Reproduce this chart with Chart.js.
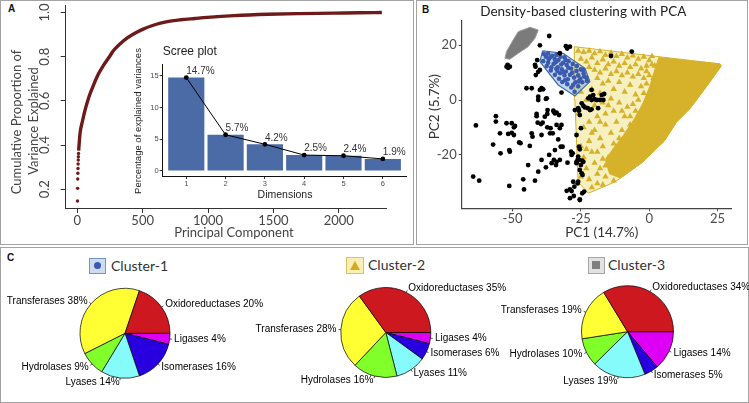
<!DOCTYPE html>
<html>
<head>
<meta charset="utf-8">
<script src="https://cdn.jsdelivr.net/npm/chart.js@4.4.1/dist/chart.umd.min.js"></script>
<style>
  body { margin: 0; width: 749px; height: 403px; overflow: hidden; position: relative; background: #fff; font-family: "Liberation Sans", Arial, sans-serif; }
  .box { position: absolute; border: 1px solid #a3a3a3; box-sizing: border-box; }
  canvas { position: absolute; }
  .tag { position: absolute; font: bold 10px "Liberation Sans", Arial, sans-serif; color: #111; line-height: 12px; }
  .ctitle { position: absolute; font: 14px Lato, sans-serif; color: #333; line-height: 17px; }
  .icon { position: absolute; box-sizing: border-box; border: 1.5px solid; }
</style>
</head>
<body>
<div class="box" style="left:0;top:0;width:414px;height:245px"></div>
<div class="box" style="left:416px;top:0;width:332px;height:245px"></div>
<div class="box" style="left:0;top:247px;width:749px;height:156px"></div>
<div class="tag" style="left:8px;top:3px">A</div>
<div class="tag" style="left:422px;top:4px">B</div>
<div class="tag" style="left:7px;top:252px">C</div>

<div class="icon" style="left:89px;top:258px;width:17px;height:16px;background:#cddcf0;border-color:#7196ca">
  <div style="position:absolute;left:3.5px;top:3px;width:7px;height:7px;border-radius:50%;background:#3a5bb0"></div>
</div>
<div class="ctitle" style="left:111px;top:257px">Cluster-1</div>
<div class="icon" style="left:346px;top:257px;width:18px;height:17px;background:#fbefb5;border-color:#dfc35a">
  <div style="position:absolute;left:2.5px;top:3px;width:0;height:0;border-left:5px solid transparent;border-right:5px solid transparent;border-bottom:9px solid #d1ab22"></div>
</div>
<div class="ctitle" style="left:368px;top:256px">Cluster-2</div>
<div class="icon" style="left:588px;top:257px;width:17px;height:17px;background:#e2e2e2;border-color:#a6a6a6">
  <div style="position:absolute;left:3px;top:3px;width:8px;height:8px;background:#7f7f7f"></div>
</div>
<div class="ctitle" style="left:608px;top:256px">Cluster-3</div>

<canvas id="cA" width="414" height="244" style="left:0;top:0"></canvas>
<canvas id="cI" width="282" height="170" style="left:130px;top:40px"></canvas>
<canvas id="cB" width="332" height="245" style="left:416px;top:0"></canvas>
<canvas id="cP1" width="749" height="156" style="left:0;top:247px"></canvas>
<canvas id="cP2" width="749" height="156" style="left:0;top:247px"></canvas>
<canvas id="cP3" width="749" height="156" style="left:0;top:247px"></canvas>

<script>
// ---- panel A: cumulative proportion of variance ----
const firstPcs = [1, 2, 3, 4, 5, 6, 7, 8, 9];
const firstCum = [0.147, 0.204, 0.246, 0.272, 0.294, 0.314, 0.332, 0.347, 0.362];
const pcIndex = [10, 21, 40, 59, 90, 123, 160, 200, 240, 277, 330, 380, 440, 508, 570, 636, 710, 790, 900, 995, 1200, 1457, 1700, 1968, 2150, 2330];
const cumVar = [0.375, 0.454, 0.51, 0.558, 0.62, 0.67, 0.72, 0.761, 0.795, 0.828, 0.86, 0.884, 0.906, 0.926, 0.94, 0.952, 0.961, 0.967, 0.973, 0.978, 0.986, 0.992, 0.995, 0.997, 0.999, 1.0];
const pcTicks = [0, 500, 1000, 1500, 2000];
const cumTicks = [0.2, 0.4, 0.6, 0.8, 1.0];

// ---- inset: scree plot ----
const screeDims = [1, 2, 3, 4, 5, 6];
const screePct = [14.7, 5.7, 4.2, 2.5, 2.4, 1.9];
const screeTicks = [0, 5, 10, 15];

// ---- panel B: PCA scatter (PC1, PC2) ----
const pc1Ticks = [-50, -25, 0, 25];
const pc2Ticks = [-20, 0, 20];
const noisePts = [
  [-36.6,23.4],[-40.0,20.0],[-30.5,19.7],[-29.0,19.5],[-30.0,18.8],[-32.7,17.1],[-41.0,14.6],[-41.8,12.8],[-40.6,10.3],[-41.5,9.1],
  [-40.0,11.0],[-41.6,12.2],[-51.6,11.8],[-52.2,12.2],[-51.8,12.8],[-51.0,12.2],[-44.9,4.3],[-43.0,4.3],[-40.0,3.7],[-39.4,4.3],[-38.8,3.9],
  [-40.6,1.2],[-37.5,0.6],[-40.6,0],[-37.8,0.4],[-32.1,2.7],[-35.1,-3.9],[-33.9,-4.6],[-41.2,-5.1],[-20.5,1.8],[-19.2,0],
  [-56.1,-5.9],[-56.1,-7.9],[-63.4,-9.3],[-52.2,-8.5],[-50.3,-8.5],[-49.1,-9.5],[-49.5,-10.0],[-54.6,-12.2],[-51.6,-12.4],
  [-50.3,-12.0],[-49.5,-12.8],[-57.1,-16.3],[-54.4,-19.5],[-51.2,-18.3],[-51.0,-18.9],[-47.6,-15.5],[-47.1,-15.8],[-43.0,-12.2],
  [-42.7,-13.4],[-43.7,-16.8],[-41.2,-5.9],[-39.0,-8.3],[-40.8,-8.3],[-39.6,-8.8],[-37.3,-5.1],[-37.2,-3.7],[-38.2,-6.1],[-37.3,-10.0],[-36.1,-10.3],
  [-36.3,-12.2],[-35.3,-12.2],[-39.4,-12.8],[-34.9,-4.3],[-34.5,-4.9],[-33.0,-5.5],[-32.1,-9.1],[-33.9,-9.1],[-32.7,-10.3],[-33.3,-14.4],
  [-32.4,-17.1],[-31.7,-17.1],[-34.5,-18.3],[-36.6,-20.1],[-39.4,-21.9],[-40.6,-26.2],[-44.3,-23.8],[-37.8,-24.6],[-35.7,-23.1],
  [-34.9,-21.9],[-33.9,-22.6],[-34.1,-23.8],[-32.7,-21.9],[-29.9,-22.9],[-28.6,-18.9],[-28.4,-20.1],[-28.0,-19.5],[-26.6,-22.6],
  [-25.6,-21.9],[-24.1,-22.6],[-27.8,-29.9],[-26.0,-29.9],[-29.0,-32.7],[-30.2,-33.2],[-28.4,-33.3],[-27.6,-35.1],[-25.4,-36.3],
  [-29.0,-35.9],[-27.4,-31.7],[-64.4,-28.0],[-62.2,-29.5],[-51.2,-31.4],[-46.1,-29.0],[-45.8,-32.7],[-41.8,-29.5],[-27.2,-3.7],[-25.7,-3.9],
  [-25.4,-25.6],[-24.7,-26.8],[-24.4,-27.4],[-14.0,16.1],[-6.4,17.7],[-21.1,3.7],[-21.7,1.2],[-22.3,0.6],[-21.1,0],[-20.1,0.3],
  [-17.4,1.8],[-16.5,2.2],[-16.8,0],[-18.0,0],[-24.7,-1.2],[-24.1,-2.2],[-23.5,-2.7],[-22.5,-3.0],[-21.7,-3.7],[-21.1,-3.4],
  [-18.7,-3.0],[-26.0,-3.0],[-25.4,-5.5],[-25.0,-10.3],[-26.6,-12.8],[-25.7,-17.1],[-25.4,-18.0],[-26.0,-20.7],[-26.2,-21.9],
  [-24.5,-22.2],[-25.0,-23.8],[-26.6,-23.1],[-26.2,-30.5],[-23.8,-33.5],[-24.5,-34.1],[-25.4,-36.6]
];
const blueHull = [[-39.0,18.0],[-31.5,17.1],[-23.5,11.6],[-21.7,6.7],[-27.2,1.5],[-33.3,5.5],[-40.0,14.0],[-39.0,18.0]];
const bluePts = [
  [-38.5,16.8],[-37,17],[-35.5,16.2],[-34,16.5],[-32.5,15.8],[-31,15.6],[-29.5,14.2],[-28,13.2],[-26.5,12.4],[-25,11.2],
  [-24,9.8],[-23,8.2],[-22.8,7],[-24.5,6.5],[-26,5],[-27.3,3],[-28.5,4.6],[-30,5.8],[-31.8,6.6],[-33,7.8],[-34.5,9.2],
  [-36,10.8],[-37.5,12.4],[-38.8,14.2],[-36.8,14.8],[-35,13.2],[-33.5,12],[-32,11.2],[-30.5,10.4],[-29,9.2],[-27.5,8.2],
  [-26,9],[-25.2,7.8],[-28.6,11.5],[-30.2,12.8],[-31.5,13.6],[-33.2,14.6],[-34.6,15],[-29.8,7.6],[-31,9],[-27,6.5],
  [-24.2,11],[-35.8,12],[-37.8,15.8],[-32.6,9.8],[-36.2,15.6],[-34.2,13.8],[-32.2,13],[-30.6,14.6],[-28.2,10],[-26.6,10.6],
  [-29.6,11.8],[-31.4,10.2],[-33.6,10.6],[-27.8,5.6],[-25.8,6.8],[-23.8,8.6],[-30.8,7.2],[-34,11.4],[-37,13.6]
];
const grayHull = [[-43.6,26.6],[-40.6,25.6],[-41.8,22.6],[-44.3,19.5],[-47.9,17.1],[-51.0,14.9],[-52.8,15.2],[-52.2,17.7],[-49.8,21.9],[-47.9,25.0],[-43.6,26.6]];
const yellowHull = [[-27.4,19.5],[25.9,13.2],[26.3,12.4],[21,5],[15,-3],[10,-8],[5.5,-15],[-2.8,-23],[-12.6,-30],[-22.3,-34.1],[-26,-30],[-27.2,0],[-27.4,19.5]];
const yellowCore = [[3.5,15.5],[25.9,13.2],[26.3,12.4],[21,5],[15,-3],[10,-8],[5.5,-15],[-2.8,-23],[-10.5,-28.5],[-14.5,-27],[-16,-22],[-13,-17.5],[-9.5,-13],[-5.5,-7],[-2.2,-1],[0.2,5],[2,11],[3.5,15.5]];
const yellowPts = [
  [-26,18],[-24,17.5],[-22,18],[-20,17],[-18,17.8],[-16,16.5],[-14,17.2],[-12,16],[-10,16.8],[-8,15.5],[-6,16.2],[-4,15],
  [-2,15.8],[0,14.5],[-25,15],[-23,14],[-21,15.5],[-19,13.5],[-17,14.8],[-15,13],[-13,14],[-11,12.5],[-9,13.5],[-7,12],
  [-5,13],[-3,11.5],[-1,12.5],[1,13],[-20,11],[-18,10],[-16,11.5],[-14,9.5],[-12,10.5],[-10,9],[-8,10],[-6,8.5],[-4,9.5],
  [-2,8],[0,9],[-15,7],[-11,6.5],[-7,5.5],[-3,5],[-9,3],[-5,2],[-13,4],[-17,6],[-19,8],[-22,12],[-24,11],
  [-23,0],[-20,-2],[-17,-1],[-14,0.5],[-11,-1],[-8,-2.5],[-5,-4],[-13,-4],[-16,-5],[-19,-6],[-22,-8],[-24,-10],[-20,-11],
  [-16,-9],[-12,-8],[-9,-6],[-14,-12],[-18,-14],[-22,-15],[-25,-17],[-21,-19],[-17,-17],[-13,-16],[-20,-23],[-23,-25],
  [-25,-28],[-22,-29],[-24,-21],[-19,-27],[-16,-24],[-10,-11],[-7,-9],[-26,-5],[-25,3],[-21,4],[-18,2.5],
  [1,16],[2,12.5],[-1,10.5],[1.5,8],[-1,6],[1,3],[-2,2.5],[-4,0],[-1,-2.5],[-6,-1.5],[-3,-5.5],[-7,-6],[-5,-9],[-8,-12],
  [-11,-14],[-6,-15],[-9,-17],[-12,-19.5],[-15,-21],[-17,-21.5],[-18,-25],[-14,-25],[-12,-23],[-10,-26],[-16,-28],[-19,-30.5],
  [-21,-32],[-17,-31],[-13,-29.5],[-8,-21],[-4,-19],[-2,-13],[-10,-4],[-15,-2],[-18,-8],[-21,-12],[-23,-18],[-19,-19]
];

// ---- panel C: enzyme classes per cluster (%) ----
const enzymeClasses = ['Oxidoreductases', 'Transferases', 'Hydrolases', 'Lyases', 'Isomerases', 'Ligases'];
const cluster1Pct = [20, 38, 9, 14, 16, 4];
const cluster2Pct = [35, 28, 16, 11, 6, 4];
const cluster3Pct = [34, 19, 10, 19, 5, 14];
const enzymeColors = ['#cc181e', '#ffff33', '#80ff2b', '#86fbfb', '#2800e0', '#dd00f5'];

const toXY = arr => arr.map(p => ({ x: p[0], y: p[1] }));
const fixedTicks = vals => s => { s.ticks = vals.map(v => ({ value: v })); };

// free text drawn in canvas coordinates
const textPlugin = {
  id: 'texts',
  afterDraw(chart, args, opts) {
    const ctx = chart.ctx;
    (opts.items || []).forEach(t => {
      ctx.save();
      ctx.font = t.font;
      ctx.fillStyle = t.color || '#333';
      ctx.textAlign = t.align || 'center';
      ctx.textBaseline = 'middle';
      ctx.translate(t.x, t.y);
      if (t.rot) ctx.rotate(t.rot);
      ctx.fillText(t.text, 0, 0);
      ctx.restore();
    });
  }
};

// panel A y tick labels are written vertically, as in base R
const rotYTicks = {
  id: 'rotYTicks',
  afterDraw(chart) {
    const ys = chart.scales.y, ctx = chart.ctx;
    ctx.save();
    ctx.font = '13px Lato, sans-serif';
    ctx.fillStyle = '#444';
    ctx.textAlign = 'center';
    ctx.textBaseline = 'middle';
    ys.ticks.forEach(t => {
      ctx.save();
      ctx.translate(45, ys.getPixelForValue(t.value));
      ctx.rotate(-Math.PI / 2);
      ctx.fillText(t.value.toFixed(1), 0, 0);
      ctx.restore();
    });
    ctx.restore();
  }
};

const darkRed = '#6e1a1a';
new Chart(document.getElementById('cA'), {
  type: 'scatter',
  data: {
    datasets: [
      { data: pcIndex.map((x, i) => ({ x: x, y: cumVar[i] })), showLine: true, borderColor: darkRed, borderWidth: 3.4,
        pointRadius: 0, cubicInterpolationMode: 'monotone' },
      { data: firstPcs.map((x, i) => ({ x: x, y: firstCum[i] })), backgroundColor: darkRed, borderWidth: 0, pointRadius: 1.7 }
    ]
  },
  options: {
    responsive: false, animation: false,
    layout: { padding: { left: 0, top: 5, right: 27.3, bottom: 0 } },
    plugins: {
      legend: { display: false }, tooltip: { enabled: false },
      texts: { items: [
        { text: 'Principal Component', x: 234, y: 233, font: '13px Lato, sans-serif', color: '#444' },
        { text: 'Cumulative Proportion of', x: 17, y: 122, rot: -Math.PI / 2, font: '13px Lato, sans-serif', color: '#444' },
        { text: 'Variance Explained', x: 34, y: 121, rot: -Math.PI / 2, font: '13px Lato, sans-serif', color: '#444' }
      ] }
    },
    scales: {
      x: { type: 'linear', min: -89, max: 2367, afterFit: s => { s.height = 36; }, afterBuildTicks: fixedTicks(pcTicks),
           grid: { drawOnChartArea: false, tickLength: 5, color: '#333' }, border: { color: '#333' },
           ticks: { callback: v => String(v), font: { family: 'Lato', size: 13, lineHeight: 1 }, color: '#444', padding: 1, maxRotation: 0, autoSkip: false } },
      y: { type: 'linear', min: 0.115, max: 1.034, afterFit: s => { s.width = 65.7; }, afterBuildTicks: fixedTicks(cumTicks),
           grid: { drawOnChartArea: false, tickLength: 5, color: '#333' }, border: { color: '#333' },
           ticks: { display: false } }
    }
  },
  plugins: [textPlugin, rotYTicks]
});

// value labels above the scree line points
const screeLabels = {
  id: 'screeLabels',
  afterDatasetsDraw(chart) {
    const ctx = chart.ctx, meta = chart.getDatasetMeta(1);
    ctx.save();
    ctx.font = '10px "Liberation Sans", Arial, sans-serif';
    ctx.fillStyle = '#333';
    ctx.textAlign = 'left';
    ctx.textBaseline = 'bottom';
    meta.data.forEach((pt, i) => ctx.fillText(screePct[i].toFixed(1) + '%', pt.x, pt.y - 1.5));
    ctx.restore();
  }
};

new Chart(document.getElementById('cI'), {
  type: 'bar',
  data: {
    datasets: [
      { type: 'bar', data: screeDims.map((d, i) => ({ x: d, y: screePct[i] })), backgroundColor: '#4b6ba6',
        barPercentage: 0.92, categoryPercentage: 1, order: 2 },
      { type: 'line', data: screeDims.map((d, i) => ({ x: d, y: screePct[i] })), borderColor: '#000', borderWidth: 1,
        backgroundColor: '#000', pointRadius: 2.4, pointBorderWidth: 0, order: 1 }
    ]
  },
  options: {
    responsive: false, animation: false,
    layout: { padding: { left: 0, top: 24, right: 5.6, bottom: 0 } },
    plugins: {
      legend: { display: false }, tooltip: { enabled: false },
      texts: { items: [
        { text: 'Scree plot', x: 32.7, y: 12, align: 'left', font: '12px "Liberation Sans", Arial, sans-serif', color: '#222' },
        { text: 'Dimensions', x: 155, y: 155, font: '10.5px "Liberation Sans", Arial, sans-serif', color: '#222' },
        { text: 'Percentage of explained variances', x: 8, y: 81, rot: -Math.PI / 2, font: '9.5px "Liberation Sans", Arial, sans-serif', color: '#222' }
      ] }
    },
    scales: {
      x: { type: 'linear', offset: false, min: 0.4, max: 6.6, afterFit: s => { s.height = 34; }, afterBuildTicks: fixedTicks(screeDims),
           grid: { drawOnChartArea: false, tickLength: 3, color: '#333', offset: false }, border: { color: '#111' },
           ticks: { callback: v => String(v), font: { size: 7.5, lineHeight: 1.2 }, color: '#4d4d4d', padding: 0, autoSkip: false, maxRotation: 0 } },
      y: { type: 'linear', min: -0.79, max: 16.84, afterFit: s => { s.width = 32.7; }, afterBuildTicks: fixedTicks(screeTicks),
           grid: { drawOnChartArea: false, tickLength: 3, color: '#333' }, border: { color: '#111' },
           ticks: { callback: v => String(v), font: { size: 7.5 }, color: '#4d4d4d', padding: 1 } }
    }
  },
  plugins: [textPlugin, screeLabels]
});

const mustard = '#d5b22a';
new Chart(document.getElementById('cB'), {
  type: 'scatter',
  data: {
    datasets: [
      { data: toXY(yellowHull), showLine: true, fill: 'shape', backgroundColor: '#f6efbf', borderColor: mustard, borderWidth: 1, pointRadius: 0, order: 10 },
      { data: toXY(yellowCore), showLine: true, fill: 'shape', backgroundColor: mustard, borderColor: mustard, borderWidth: 1, pointRadius: 0, order: 9 },
      { data: toXY(yellowPts), pointStyle: 'triangle', pointRadius: 3.7, backgroundColor: mustard, borderWidth: 0, order: 8 },
      { data: toXY(grayHull), showLine: true, fill: 'shape', backgroundColor: '#7b7b7b', borderColor: '#9a9a9a', borderWidth: 1, pointRadius: 0, order: 7 },
      { data: toXY(blueHull), showLine: true, fill: 'shape', backgroundColor: 'rgba(90,140,200,0.35)', borderColor: '#3d6fa8', borderWidth: 1.2, pointRadius: 0, order: 6 },
      { data: toXY(bluePts), pointRadius: 2.3, backgroundColor: '#3a5bb0', borderWidth: 0, order: 5 },
      { data: toXY(noisePts), pointRadius: 2.4, backgroundColor: '#000', borderWidth: 0, order: 1 }
    ]
  },
  options: {
    responsive: false, animation: false,
    layout: { padding: { left: 0, top: 20.7, right: 17, bottom: 0 } },
    plugins: {
      legend: { display: false }, tooltip: { enabled: false },
      texts: { items: [
        { text: 'Density-based clustering with PCA', x: 167.3, y: 11.7, font: '13.5px Lato, sans-serif', color: '#222' },
        { text: 'PC1 (14.7%)', x: 185.7, y: 233, font: '13.5px Lato, sans-serif', color: '#333' },
        { text: 'PC2 (5.7%)', x: 19, y: 106.7, rot: -Math.PI / 2, font: '13.5px Lato, sans-serif', color: '#333' }
      ] }
    },
    scales: {
      x: { type: 'linear', min: -68.6, max: 29.9, afterFit: s => { s.height = 36.7; }, afterBuildTicks: fixedTicks(pc1Ticks),
           grid: { drawOnChartArea: false, tickLength: 3, color: '#444' }, border: { color: '#444', width: 1.2 },
           ticks: { callback: v => String(v), font: { family: 'Lato', size: 13, lineHeight: 1 }, color: '#4d4d4d', padding: 1, autoSkip: false, maxRotation: 0 } },
      y: { type: 'linear', min: -39.6, max: 29.0, afterFit: s => { s.width = 45.7; }, afterBuildTicks: fixedTicks(pc2Ticks),
           grid: { drawOnChartArea: false, tickLength: 3, color: '#444' }, border: { color: '#444', width: 1.2 },
           ticks: { callback: v => String(v), font: { family: 'Lato', size: 13 }, color: '#4d4d4d', padding: 2 } }
    }
  },
  plugins: [textPlugin]
});

// labels outside each slice with a short leader, like R's pie()
const pieLabels = {
  id: 'pieLabels',
  afterDatasetsDraw(chart) {
    const ctx = chart.ctx, meta = chart.getDatasetMeta(0);
    const labels = chart.data.labels, vals = chart.data.datasets[0].data;
    ctx.save();
    ctx.font = '10px "Liberation Sans", Arial, sans-serif';
    ctx.fillStyle = '#000';
    ctx.strokeStyle = '#000';
    ctx.lineWidth = 0.7;
    ctx.textBaseline = 'middle';
    meta.data.forEach((arc, i) => {
      const a = (arc.startAngle + arc.endAngle) / 2, r = arc.outerRadius;
      const c = Math.cos(a), s = Math.sin(a);
      ctx.beginPath();
      ctx.moveTo(arc.x + c * r, arc.y + s * r);
      ctx.lineTo(arc.x + c * r * 1.05, arc.y + s * r * 1.05);
      ctx.stroke();
      ctx.textAlign = c > 0 ? 'left' : 'right';
      ctx.fillText(labels[i] + ' ' + vals[i] + '%', arc.x + c * r * 1.1, arc.y + s * r * 1.1);
    });
    ctx.restore();
  }
};

// R draws counter-clockwise from 3 o'clock; Chart.js goes clockwise, so reverse the order
function drawPie(id, pct, radius, pad) {
  new Chart(document.getElementById(id), {
    type: 'pie',
    data: {
      labels: enzymeClasses.slice().reverse(),
      datasets: [{ data: pct.slice().reverse(), backgroundColor: enzymeColors.slice().reverse(),
                   borderColor: '#000', borderWidth: 0.7 }]
    },
    options: {
      responsive: false, animation: false, rotation: 90, radius: radius,
      layout: { padding: pad },
      plugins: { legend: { display: false }, tooltip: { enabled: false } }
    },
    plugins: [pieLabels]
  });
}
drawPie('cP1', cluster1Pct, 45, { left: 75, top: 36.3, right: 574, bottom: 19.7 });
drawPie('cP2', cluster2Pct, 45, { left: 335.8, top: 35.5, right: 313.2, bottom: 20.5 });
drawPie('cP3', cluster3Pct, 46, { left: 577.5, top: 34.7, right: 71.5, bottom: 21.3 });
</script>
</body>
</html>
